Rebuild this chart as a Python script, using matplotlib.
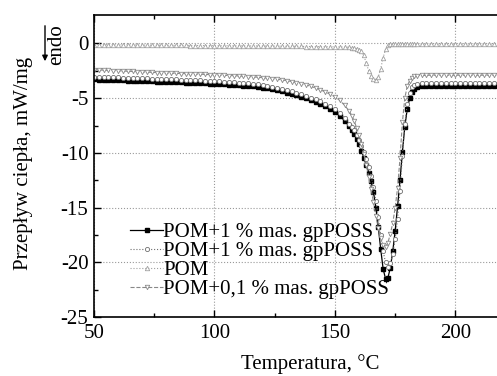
import matplotlib
matplotlib.use("Agg")
import matplotlib.pyplot as plt

plt.rcParams['font.family'] = ['Liberation Serif', 'DejaVu Serif']
plt.rcParams['mathtext.fontset'] = 'stix'

# temperature grid, degC
temp = [50, 52, 54, 56, 58, 60, 62, 64, 66, 68, 70, 72, 74, 76, 78, 80, 82, 84, 86, 88,
        90, 92, 94, 96, 98, 100, 102, 104, 106, 108, 110, 112, 114, 116, 118, 120, 122, 124,
        126, 128, 130, 132, 134, 136, 138, 140, 142, 144, 146, 148, 150, 152, 154, 156,
        157, 158, 159, 160, 161, 162, 163, 164, 165, 166, 167, 168, 169, 170, 171, 172,
        173, 174, 175, 176, 177, 178, 179, 180, 181, 182, 183, 184,
        186, 188, 190, 192, 194, 196, 198, 200, 202, 204, 206, 208, 210, 212, 214, 216, 218]

# POM+1 % mas. gpPOSS (squares)
hf_sq = [-3.28, -3.30, -3.31, -3.33, -3.34, -3.36, -3.37, -3.39, -3.40, -3.42, -3.43, -3.45,
         -3.46, -3.48, -3.49, -3.51, -3.53, -3.54, -3.56, -3.58, -3.59, -3.61, -3.63, -3.65,
         -3.67, -3.69, -3.71, -3.74, -3.76, -3.79, -3.82, -3.85, -3.89, -3.93, -3.98, -4.04,
         -4.11, -4.19, -4.28, -4.38, -4.49, -4.61, -4.74, -4.88, -5.03, -5.19, -5.36, -5.54,
         -5.74, -5.98, -6.26, -6.62, -7.06, -7.58,
         -7.90, -8.25, -8.70, -9.20, -9.80, -10.45, -11.10, -11.80, -12.60, -13.60, -15.00,
         -16.80, -18.80, -20.60, -21.50, -21.40, -20.50, -19.00, -17.10, -14.90, -12.50,
         -9.90, -7.60, -6.00, -5.00, -4.45, -4.15, -4.00,
         -3.92, -3.88, -3.87, -3.86, -3.86, -3.86, -3.86, -3.86, -3.86, -3.86, -3.86, -3.86,
         -3.86, -3.86, -3.86, -3.86, -3.86]

# POM+1 % mas. gpPOSS (circles)
hf_ci = [-3.03, -3.05, -3.06, -3.08, -3.09, -3.11, -3.12, -3.14, -3.15, -3.17, -3.18, -3.20,
         -3.21, -3.23, -3.24, -3.26, -3.28, -3.29, -3.31, -3.33, -3.34, -3.36, -3.38, -3.40,
         -3.42, -3.44, -3.46, -3.49, -3.51, -3.54, -3.57, -3.60, -3.64, -3.68, -3.73, -3.79,
         -3.86, -3.94, -4.03, -4.13, -4.24, -4.36, -4.49, -4.63, -4.78, -4.94, -5.11, -5.29,
         -5.49, -5.73, -6.01, -6.37, -6.81, -7.33,
         -7.62, -7.95, -8.35, -8.80, -9.35, -9.95, -10.60, -11.30, -12.10, -13.10, -14.40,
         -15.90, -17.50, -19.00, -20.00, -20.40, -20.10, -19.20, -17.90, -16.00, -13.50,
         -10.30, -7.40, -5.50, -4.50, -4.00, -3.80, -3.70,
         -3.64, -3.62, -3.61, -3.61, -3.61, -3.61, -3.61, -3.61, -3.61, -3.61, -3.61, -3.61,
         -3.61, -3.61, -3.61, -3.61, -3.61]

# POM (up triangles)
hf_pom = [-0.10, -0.10, -0.11, -0.11, -0.12, -0.12, -0.13, -0.13, -0.14, -0.14, -0.15, -0.15,
          -0.16, -0.16, -0.17, -0.17, -0.17, -0.18, -0.18, -0.18, -0.19, -0.19, -0.19, -0.20,
          -0.20, -0.20, -0.21, -0.21, -0.21, -0.22, -0.22, -0.22, -0.23, -0.23, -0.23, -0.24,
          -0.24, -0.24, -0.25, -0.25, -0.26, -0.26, -0.27, -0.27, -0.28, -0.28, -0.29, -0.29,
          -0.30, -0.30, -0.31, -0.32, -0.33, -0.35,
          -0.38, -0.42, -0.48, -0.56, -0.70, -1.10, -1.80, -2.50, -3.00, -3.25, -3.30,
          -3.05, -2.30, -1.30, -0.55, -0.15, -0.08, -0.06, -0.05, -0.05, -0.05,
          -0.05, -0.05, -0.05, -0.05, -0.05, -0.05, -0.05,
          -0.05, -0.05, -0.05, -0.05, -0.05, -0.05, -0.05, -0.05, -0.05, -0.05, -0.05, -0.05,
          -0.05, -0.05, -0.05, -0.05, -0.05]

# POM+0,1 % mas. gpPOSS (down triangles)
hf_01 = [-2.40, -2.42, -2.44, -2.46, -2.48, -2.50, -2.52, -2.54, -2.56, -2.58, -2.60, -2.62,
         -2.64, -2.66, -2.68, -2.70, -2.72, -2.73, -2.75, -2.76, -2.78, -2.79, -2.81, -2.83,
         -2.85, -2.87, -2.89, -2.91, -2.93, -2.95, -2.97, -3.00, -3.03, -3.06, -3.09, -3.13,
         -3.17, -3.22, -3.27, -3.33, -3.40, -3.48, -3.57, -3.67, -3.79, -3.92, -4.07, -4.24,
         -4.43, -4.64, -4.88, -5.20, -5.65, -6.20,
         -6.60, -7.10, -7.70, -8.40, -9.20, -10.10, -11.10, -12.20, -13.30, -14.50, -15.80,
         -16.90, -17.80, -18.40, -18.60, -18.20, -17.40, -16.40, -15.00, -13.20, -10.50,
         -7.20, -5.00, -3.90, -3.40, -3.15, -3.00, -2.95,
         -2.92, -2.91, -2.90, -2.90, -2.90, -2.90, -2.90, -2.90, -2.90, -2.90, -2.90, -2.90,
         -2.90, -2.90, -2.90, -2.90, -2.90]

labels = ['POM+1 % mas. gpPOSS', 'POM+1 % mas. gpPOSS', 'POM', 'POM+0,1 % mas. gpPOSS']

fig = plt.figure(figsize=(4.97, 3.76), dpi=100)
# axes run past the right edge, as in the cropped original
ax = fig.add_axes([94 / 497, 59 / 376, 432 / 497, 302 / 376])

ax.plot(temp, hf_sq, '-', color='black', lw=0.9, marker='s', ms=2.6,
        mfc='black', mec='black', label=labels[0])
ax.plot(temp, hf_ci, ':', color='#707070', lw=0.8, marker='o', ms=3.0,
        mfc='white', mec='#707070', mew=0.6, label=labels[1])
ax.plot(temp, hf_pom, ':', color='#a0a0a0', lw=0.8, marker='^', ms=3.2,
        mfc='white', mec='#a0a0a0', mew=0.6, label=labels[2])
ax.plot(temp, hf_01, '--', color='#888888', lw=0.8, marker='v', ms=3.2,
        mfc='white', mec='#888888', mew=0.6, label=labels[3])

ax.set_xlim(50, 229.3)
ax.set_ylim(-25, 2.6)
ax.set_xticks([50, 100, 150, 200])
ax.set_xticks([75, 125, 175, 225], minor=True)
ax.set_yticks([0, -5, -10, -15, -20, -25])
ax.set_yticks([-2.5, -7.5, -12.5, -17.5, -22.5], minor=True)
ax.set_yticklabels(['0', '-5', '-10', '-15', '-20', '-25'])
ax.tick_params(which='both', direction='in', top=True, right=False, labelsize=15,
               width=1.0)
ax.tick_params(which='major', length=5)
ax.tick_params(axis='x', which='major', pad=5)
ax.tick_params(axis='y', which='major', pad=4)
ax.tick_params(which='minor', length=3)
ax.grid(True, which='major', color='#999999', linestyle=':', linewidth=0.8)
ax.spines['right'].set_visible(False)
for s in ['left', 'bottom', 'top']:
    ax.spines[s].set_linewidth(1.2)

ax.set_xlabel('Temperatura, °C', fontsize=15, labelpad=8)
fig.text(24 / 497, 1 - 163 / 376, 'Przepływ ciepła, mW/mg', rotation=90,
         fontsize=15, ha='center', va='center')

# endo arrow
fig.text(57 / 497, 1 - 45 / 376, 'endo', rotation=90, fontsize=15,
         ha='center', va='center')
ax.annotate('', xy=(45 / 497, 1 - 64 / 376), xytext=(45 / 497, 1 - 23 / 376),
            xycoords='figure fraction', textcoords='figure fraction',
            arrowprops=dict(arrowstyle='-|>', color='black', lw=1.0,
                            mutation_scale=8))

ax.legend(loc='lower left', bbox_to_anchor=(36 / 432, 18 / 302), frameon=False,
          fontsize=15, handlelength=1.6, handletextpad=0.0, labelspacing=-0.03,
          borderpad=0.0, borderaxespad=0.0, markerscale=1.0)

fig.savefig('out.png', dpi=100)
